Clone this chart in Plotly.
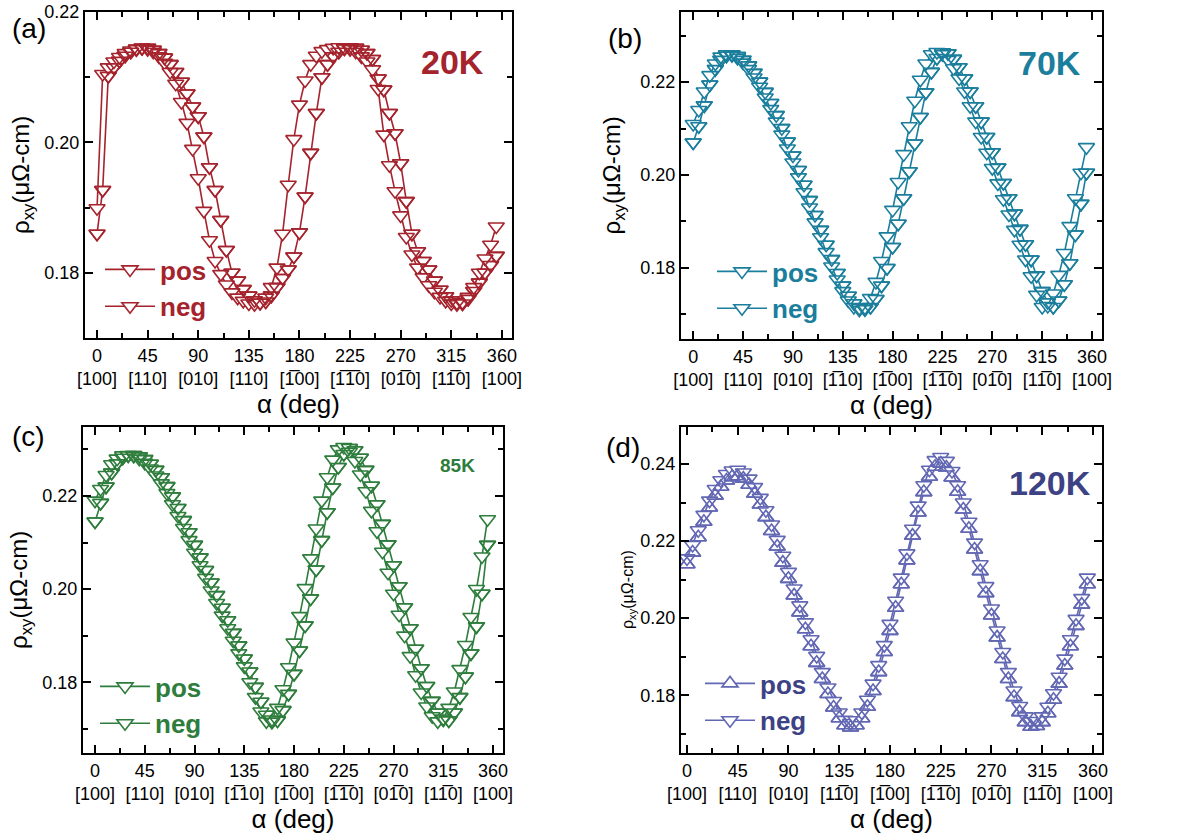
import plotly.graph_objects as go

# ---------------- data ----------------
angle = [0, 5, 10, 15, 20, 25, 30, 35, 40, 45, 50, 55, 60, 65, 70, 75, 80, 85,
         90, 95, 100, 105, 110, 115, 120, 125, 130, 135, 140, 145, 150, 155, 160, 165, 170, 175,
         180, 185, 190, 195, 200, 205, 210, 215, 220, 225, 230, 235, 240, 245, 250, 255, 260, 265,
         270, 275, 280, 285, 290, 295, 300, 305, 310, 315, 320, 325, 330, 335, 340, 345, 350, 355]

# (a) 20K
a_pos = [0.1860, 0.1927, 0.2102, 0.2115, 0.2125, 0.2133, 0.2139, 0.2143, 0.2145, 0.2145, 0.2142, 0.2137,
         0.2130, 0.2120, 0.2108, 0.2093, 0.2075, 0.2055, 0.2040, 0.2009, 0.1962, 0.1927, 0.1881, 0.1835,
         0.1800, 0.1788, 0.1775, 0.1765, 0.1758, 0.1754, 0.1756, 0.1765, 0.1778, 0.1792, 0.1805, 0.1825,
         0.1862, 0.1917, 0.1984, 0.2045, 0.2100, 0.2120, 0.2132, 0.2139, 0.2144, 0.2146, 0.2145, 0.2142,
         0.2137, 0.2128, 0.2098, 0.2081, 0.2045, 0.2014, 0.1968, 0.1910, 0.1860, 0.1833, 0.1818, 0.1805,
         0.1788, 0.1774, 0.1764, 0.1758, 0.1754, 0.1753, 0.1760, 0.1772, 0.1785, 0.1800, 0.1812, 0.1826]
a_neg = [0.1899, 0.2105, 0.2115, 0.2124, 0.2131, 0.2137, 0.2141, 0.2144, 0.2145, 0.2143, 0.2139, 0.2132,
         0.2122, 0.2108, 0.2090, 0.2062, 0.2030, 0.1990, 0.1945, 0.1895, 0.1850, 0.1818, 0.1798, 0.1782,
         0.1770, 0.1762, 0.1757, 0.1753, 0.1752, 0.1754, 0.1762, 0.1778, 0.1808, 0.1860, 0.1935, 0.2005,
         0.2058, 0.2095, 0.2120, 0.2133, 0.2140, 0.2143, 0.2145, 0.2146, 0.2145, 0.2143, 0.2139, 0.2132,
         0.2124, 0.2112, 0.2082, 0.2012, 0.1965, 0.1925, 0.1888, 0.1855, 0.1828, 0.1808, 0.1793, 0.1781,
         0.1771, 0.1763, 0.1757, 0.1753, 0.1752, 0.1755, 0.1763, 0.1778, 0.1800, 0.1822, 0.1843, 0.1871]

# (b) 70K
b_pos = [0.2070, 0.2105, 0.2150, 0.2195, 0.2228, 0.2248, 0.2257, 0.2260, 0.2256, 0.2248, 0.2236, 0.2220,
         0.2201, 0.2179, 0.2155, 0.2129, 0.2101, 0.2072, 0.2042, 0.2011, 0.1979, 0.1946, 0.1914, 0.1882,
         0.1850, 0.1819, 0.1789, 0.1762, 0.1740, 0.1724, 0.1714, 0.1711, 0.1716, 0.1733, 0.1762, 0.1800,
         0.1845, 0.1895, 0.1950, 0.2008, 0.2068, 0.2125, 0.2178, 0.2222, 0.2252, 0.2264, 0.2262, 0.2250,
         0.2232, 0.2208, 0.2180, 0.2148, 0.2115, 0.2082, 0.2049, 0.2016, 0.1983, 0.1950, 0.1917, 0.1884,
         0.1851, 0.1818, 0.1784, 0.1750, 0.1726, 0.1716, 0.1730, 0.1765, 0.1810, 0.1872, 0.1938, 0.2005]
b_neg = [0.2110, 0.2140, 0.2180, 0.2215, 0.2240, 0.2255, 0.2260, 0.2258, 0.2252, 0.2242, 0.2228, 0.2210,
         0.2190, 0.2167, 0.2142, 0.2115, 0.2087, 0.2057, 0.2027, 0.1995, 0.1963, 0.1930, 0.1898, 0.1866,
         0.1834, 0.1803, 0.1775, 0.1750, 0.1730, 0.1716, 0.1710, 0.1715, 0.1735, 0.1770, 0.1815, 0.1868,
         0.1925, 0.1985, 0.2045, 0.2105, 0.2160, 0.2205, 0.2240, 0.2260, 0.2265, 0.2260, 0.2248, 0.2230,
         0.2208, 0.2180, 0.2148, 0.2115, 0.2082, 0.2048, 0.2015, 0.1982, 0.1948, 0.1915, 0.1882, 0.1850,
         0.1818, 0.1782, 0.1742, 0.1716, 0.1718, 0.1745, 0.1785, 0.1832, 0.1890, 0.1950, 0.2005, 0.2060]

# (c) 85K
c_pos = [0.2145, 0.2185, 0.2220, 0.2250, 0.2270, 0.2282, 0.2287, 0.2288, 0.2285, 0.2279, 0.2269, 0.2256,
         0.2240, 0.2221, 0.2199, 0.2174, 0.2148, 0.2122, 0.2095, 0.2068, 0.2041, 0.2014, 0.1987, 0.1960,
         0.1933, 0.1906, 0.1879, 0.1851, 0.1823, 0.1790, 0.1758, 0.1730, 0.1715, 0.1718, 0.1740, 0.1775,
         0.1818, 0.1868, 0.1922, 0.1980, 0.2042, 0.2105, 0.2165, 0.2218, 0.2262, 0.2290, 0.2303, 0.2298,
         0.2282, 0.2256, 0.2222, 0.2182, 0.2140, 0.2096, 0.2051, 0.2006, 0.1961, 0.1916, 0.1872, 0.1830,
         0.1792, 0.1760, 0.1735, 0.1720, 0.1718, 0.1735, 0.1768, 0.1812, 0.1862, 0.1920, 0.1990, 0.2095]
c_neg = [0.2190, 0.2215, 0.2245, 0.2268, 0.2280, 0.2287, 0.2288, 0.2286, 0.2280, 0.2271, 0.2259, 0.2244,
         0.2227, 0.2206, 0.2182, 0.2157, 0.2131, 0.2105, 0.2078, 0.2051, 0.2024, 0.1997, 0.1970, 0.1943,
         0.1916, 0.1889, 0.1862, 0.1834, 0.1800, 0.1768, 0.1737, 0.1716, 0.1720, 0.1745, 0.1785, 0.1832,
         0.1885, 0.1942, 0.2002, 0.2066, 0.2130, 0.2190, 0.2240, 0.2278, 0.2300, 0.2305, 0.2295, 0.2275,
         0.2246, 0.2210, 0.2168, 0.2124, 0.2080, 0.2035, 0.1990, 0.1945, 0.1900, 0.1856, 0.1815, 0.1778,
         0.1748, 0.1727, 0.1716, 0.1722, 0.1745, 0.1780, 0.1828, 0.1880, 0.1940, 0.2000, 0.2070, 0.2150]

# (d) 120K
d_pos = [0.2140, 0.2170, 0.2210, 0.2250, 0.2287, 0.2318, 0.2341, 0.2357, 0.2366, 0.2368, 0.2362, 0.2346,
         0.2323, 0.2295, 0.2262, 0.2226, 0.2186, 0.2144, 0.2102, 0.2059, 0.2015, 0.1971, 0.1927, 0.1884,
         0.1842, 0.1803, 0.1768, 0.1740, 0.1722, 0.1716, 0.1722, 0.1740, 0.1770, 0.1811, 0.1860, 0.1912,
         0.1967, 0.2027, 0.2088, 0.2150, 0.2214, 0.2274, 0.2327, 0.2367, 0.2393, 0.2401, 0.2391, 0.2365,
         0.2328, 0.2282, 0.2232, 0.2178, 0.2122, 0.2065, 0.2007, 0.1950, 0.1894, 0.1842, 0.1795, 0.1756,
         0.1730, 0.1718, 0.1720, 0.1730, 0.1753, 0.1788, 0.1830, 0.1877, 0.1927, 0.1980, 0.2035, 0.2088]
d_neg = [0.2155, 0.2190, 0.2228, 0.2268, 0.2305, 0.2335, 0.2358, 0.2374, 0.2383, 0.2385, 0.2378, 0.2362,
         0.2340, 0.2312, 0.2280, 0.2243, 0.2203, 0.2162, 0.2120, 0.2077, 0.2033, 0.1989, 0.1945, 0.1902,
         0.1860, 0.1820, 0.1785, 0.1755, 0.1736, 0.1728, 0.1735, 0.1755, 0.1788, 0.1830, 0.1878, 0.1930,
         0.1985, 0.2045, 0.2105, 0.2168, 0.2232, 0.2292, 0.2345, 0.2385, 0.2410, 0.2418, 0.2408, 0.2382,
         0.2345, 0.2300, 0.2250, 0.2196, 0.2140, 0.2083, 0.2025, 0.1968, 0.1912, 0.1860, 0.1812, 0.1772,
         0.1745, 0.1732, 0.1733, 0.1745, 0.1770, 0.1805, 0.1848, 0.1895, 0.1945, 0.1998, 0.2052, 0.2105]

x_ticks = [0, 45, 90, 135, 180, 225, 270, 315, 360]
B = "1\u0305"  # 1 with overbar
dir_a = ["[100]", "[110]", "[010]", "[110]", "[" + B + "00]", "[" + B + B + "0]", "[0" + B + "0]", "[1" + B + "0]", "[100]"]
dir_b = ["[100]", "[110]", "[010]", "[" + B + "10]", "[" + B + "00]", "[" + B + B + "0]", "[0" + B + "0]", "[1" + B + "0]", "[100]"]
dir_c = list(dir_b)
dir_d = ["[100]", "[110]", "[010]", "[1" + B + "0]", "[" + B + "00]", "[" + B + B + "0]", "[0" + B + "0]", "[1" + B + "0]", "[100]"]

# ---------------- style ----------------
TICKFONT = "Liberation Sans Narrow, Liberation Sans, Arial, sans-serif"
TXTFONT = "Liberation Sans, Arial, sans-serif"
W, H = 1179, 834

panels = [
    dict(pos=a_pos, neg=a_neg, col="#a5232d", txt="#a5232d", dirs=dir_a, up=False,
         xdom=[85 / W, 512 / W], ydom=[1 - 338 / H, 1 - 12 / H],
         xr=[-10.7, 369], yr=[0.170, 0.220], yt=[0.18, 0.20, 0.22],
         leg=(100 / W, 1 - 246 / H), ysize=24, ytx=22),
    dict(pos=b_pos, neg=b_neg, col="#1a7e9c", txt="#1a7e9c", dirs=dir_b, up=False,
         xdom=[681 / W, 1102 / W], ydom=[1 - 339 / H, 1 - 12 / H],
         xr=[-11, 369], yr=[0.1647, 0.2351], yt=[0.18, 0.20, 0.22],
         leg=(712 / W, 1 - 248 / H), ysize=24, ytx=613),
    dict(pos=c_pos, neg=c_neg, col="#2e7d3c", txt="#2e7d3c", dirs=dir_c, up=False,
         xdom=[83 / W, 503 / W], ydom=[1 - 753 / H, 1 - 427 / H],
         xr=[-10.9, 369], yr=[0.1648, 0.2348], yt=[0.18, 0.20, 0.22],
         leg=(95 / W, 1 - 663 / H), ysize=24, ytx=20),
    dict(pos=d_pos, neg=d_neg, col="#6267b3", txt="#3d4285", dirs=dir_d, up=True,
         xdom=[681 / W, 1102 / W], ydom=[1 - 753 / H, 1 - 427 / H],
         xr=[-5.3, 368], yr=[0.165, 0.2496], yt=[0.18, 0.20, 0.22, 0.24],
         leg=(700 / W, 1 - 660 / H), ysize=16, ytx=628),
]

fig = go.Figure()
layout = dict(
    width=W, height=H, margin=dict(l=0, r=0, t=0, b=0, autoexpand=False),
    paper_bgcolor="white", plot_bgcolor="white", showlegend=True,
    font=dict(family=TXTFONT, color="black"),
)

ann = []
for i, p in enumerate(panels):
    n = i + 1
    xa = "x" if n == 1 else f"x{n}"
    ya = "y" if n == 1 else f"y{n}"
    lg = "legend" if n == 1 else f"legend{n}"
    sym_pos = "triangle-up" if p["up"] else "triangle-down"
    sym_neg = "triangle-down"
    for name, vals, sym in (("pos", p["pos"], sym_pos), ("neg", p["neg"], sym_neg)):
        fig.add_trace(go.Scatter(
            x=angle, y=vals, name=name, mode="lines+markers", xaxis=xa, yaxis=ya, legend=lg,
            line=dict(color=p["col"], width=1.6),
            marker=dict(symbol=sym, size=14, color="white", line=dict(color=p["col"], width=1.6)),
        ))
    # restore the outlines of the first series hidden by the second one
    fig.add_trace(go.Scatter(
        x=angle, y=p["pos"], mode="markers", xaxis=xa, yaxis=ya, showlegend=False,
        marker=dict(symbol=sym_pos + "-open", size=14, color=p["col"], line=dict(color=p["col"], width=1.6)),
    ))

    axis_common = dict(showline=True, linecolor="black", linewidth=2, mirror="allticks",
                       ticks="inside", ticklen=8, tickwidth=2, tickcolor="black",
                       showgrid=False, zeroline=False, automargin=False)
    layout["xaxis" if n == 1 else f"xaxis{n}"] = dict(
        axis_common, domain=p["xdom"], anchor=ya, range=p["xr"],
        tickmode="array", tickvals=x_ticks,
        ticktext=[f"{t}<br>{d}" for t, d in zip(x_ticks, p["dirs"])],
        tickfont=dict(family=TICKFONT, size=18, color="black"),
        minor=dict(ticks="inside", ticklen=5, tickwidth=2, tickcolor="black", dtick=22.5, tick0=0),
        title=dict(text="α (deg)", font=dict(family=TXTFONT, size=26), standoff=2),
    )
    layout["yaxis" if n == 1 else f"yaxis{n}"] = dict(
        axis_common, domain=p["ydom"], anchor=xa, range=p["yr"],
        tickmode="array", tickvals=p["yt"], ticktext=[f"{v:.2f}" for v in p["yt"]],
        tickfont=dict(family=TICKFONT, size=18, color="black"),
        minor=dict(ticks="inside", ticklen=5, tickwidth=2, tickcolor="black", dtick=0.01, tick0=0.17),
    )
    # y-axis title placed as rotated text beside the axis
    ymid = (p["ydom"][0] + p["ydom"][1]) / 2
    ann.append(dict(text="ρ<sub>xy</sub>(μΩ-cm)", x=p["ytx"] / W, y=ymid, xref="paper", yref="paper",
                    xanchor="center", yanchor="middle", textangle=-90, showarrow=False,
                    font=dict(family=TXTFONT, size=p["ysize"], color="black")))
    layout[lg] = dict(x=p["leg"][0], y=p["leg"][1], xanchor="left", yanchor="top",
                      bgcolor="rgba(0,0,0,0)", borderwidth=0, tracegroupgap=0, itemwidth=50,
                      font=dict(family=TXTFONT, size=26, color=p["txt"], weight="bold"))

labels = [
    ("(a)", 10, 28),
    ("(b)", 606, 38),
    ("(c)", 10, 437),
    ("(d)", 604, 447),
]
for t, xp, yp in labels:
    ann.append(dict(text=t, x=xp / W, y=1 - yp / H, xref="paper", yref="paper",
                    xanchor="left", yanchor="middle", showarrow=False,
                    font=dict(family=TXTFONT, size=28, color="black")))
temps = [
    ("20K", 452, 62, 34, panels[0]["txt"]),
    ("70K", 1049, 63, 34, panels[1]["txt"]),
    ("85K", 458, 465, 19, panels[2]["txt"]),
    ("120K", 1050, 483, 34, panels[3]["txt"]),
]
for t, xp, yp, sz, c in temps:
    ann.append(dict(text=t, x=xp / W, y=1 - yp / H, xref="paper", yref="paper",
                    xanchor="center", yanchor="middle", showarrow=False,
                    font=dict(family=TXTFONT, size=sz, color=c, weight="bold")))
layout["annotations"] = ann

fig.update_layout(**layout)
fig.write_html("out.html")
